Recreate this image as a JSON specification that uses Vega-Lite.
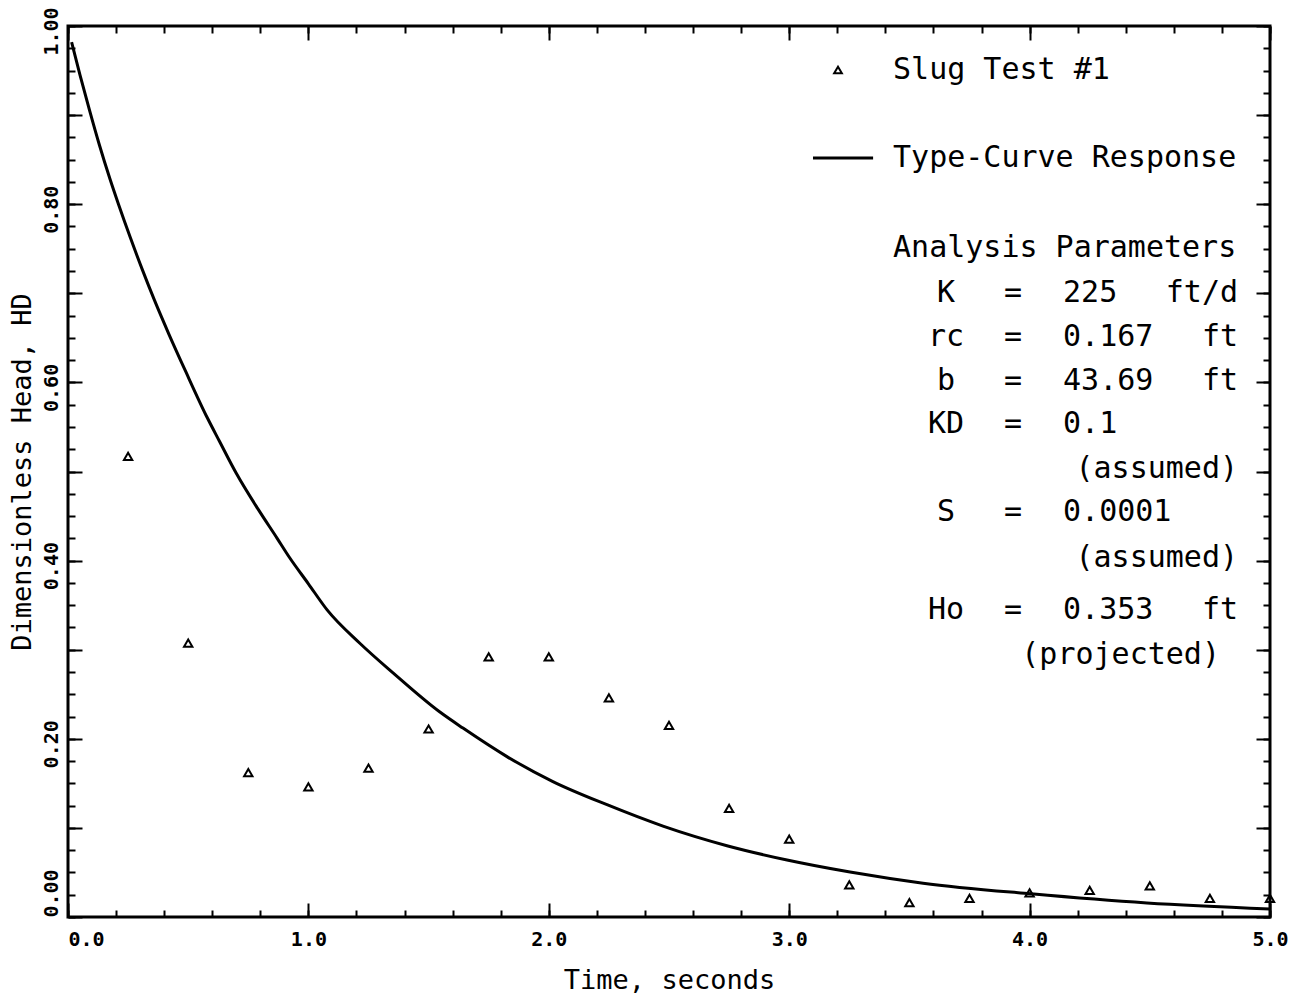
{
  "$schema": "https://vega.github.io/schema/vega-lite/v6.json",
  "width": 1202,
  "height": 891,
  "autosize": {"type": "none"},
  "padding": {"left": 68, "top": 26, "right": 21, "bottom": 84},
  "background": "white",
  "config": {
    "view": {"stroke": "black", "strokeWidth": 3},
    "axis": {"grid": false},
    "font": "DejaVu Sans Mono"
  },
  "datasets": {
    "curve": [
      {"t": 0.015, "hd": 0.982},
      {"t": 0.05, "hd": 0.945},
      {"t": 0.09, "hd": 0.905},
      {"t": 0.13, "hd": 0.867},
      {"t": 0.175, "hd": 0.828},
      {"t": 0.21, "hd": 0.8},
      {"t": 0.26, "hd": 0.762},
      {"t": 0.31, "hd": 0.726},
      {"t": 0.36, "hd": 0.692},
      {"t": 0.42, "hd": 0.654},
      {"t": 0.49, "hd": 0.612},
      {"t": 0.58, "hd": 0.56},
      {"t": 0.63, "hd": 0.534},
      {"t": 0.7, "hd": 0.498},
      {"t": 0.79, "hd": 0.458},
      {"t": 0.87, "hd": 0.425},
      {"t": 0.92, "hd": 0.404},
      {"t": 1.0, "hd": 0.374},
      {"t": 1.077, "hd": 0.345},
      {"t": 1.215, "hd": 0.307},
      {"t": 1.352, "hd": 0.274},
      {"t": 1.547, "hd": 0.23},
      {"t": 1.643, "hd": 0.212},
      {"t": 1.826, "hd": 0.18},
      {"t": 2.017, "hd": 0.152},
      {"t": 2.242, "hd": 0.126},
      {"t": 2.475, "hd": 0.102},
      {"t": 2.741, "hd": 0.08},
      {"t": 2.991, "hd": 0.064},
      {"t": 3.253, "hd": 0.0505},
      {"t": 3.557, "hd": 0.038},
      {"t": 4.006, "hd": 0.026},
      {"t": 4.488, "hd": 0.0157},
      {"t": 5.0, "hd": 0.009}
    ],
    "slug": [
      {"t": 0.25, "hd": 0.517},
      {"t": 0.5, "hd": 0.3075},
      {"t": 0.75, "hd": 0.162},
      {"t": 1.0, "hd": 0.146},
      {"t": 1.25, "hd": 0.167},
      {"t": 1.5, "hd": 0.211},
      {"t": 1.75, "hd": 0.292},
      {"t": 2.0, "hd": 0.292},
      {"t": 2.25, "hd": 0.246},
      {"t": 2.5, "hd": 0.215},
      {"t": 2.75, "hd": 0.122},
      {"t": 3.0, "hd": 0.0875},
      {"t": 3.25, "hd": 0.036},
      {"t": 3.5, "hd": 0.016},
      {"t": 3.75, "hd": 0.021},
      {"t": 4.0, "hd": 0.027},
      {"t": 4.25, "hd": 0.03},
      {"t": 4.5, "hd": 0.035},
      {"t": 4.75, "hd": 0.021},
      {"t": 5.0, "hd": 0.021}
    ],
    "legendSymbol": [{"t": 3.203, "hd": 0.9506}],
    "legendLine": [{"t": 3.099, "t2": 3.349, "hd": 0.8519}],
    "notes": [
      {"t": 3.432, "hd": 0.9506, "text": "Slug Test #1", "col": "left"},
      {"t": 3.432, "hd": 0.8519, "text": "Type-Curve Response", "col": "left"},
      {"t": 3.432, "hd": 0.7508, "text": "Analysis Parameters", "col": "left"},
      {"t": 3.652, "hd": 0.7003, "text": "K", "col": "center"},
      {"t": 3.931, "hd": 0.7003, "text": "=", "col": "center"},
      {"t": 4.139, "hd": 0.7003, "text": "225", "col": "left"},
      {"t": 4.867, "hd": 0.7003, "text": "ft/d", "col": "right"},
      {"t": 3.652, "hd": 0.651, "text": "rc", "col": "center"},
      {"t": 3.931, "hd": 0.651, "text": "=", "col": "center"},
      {"t": 4.139, "hd": 0.651, "text": "0.167", "col": "left"},
      {"t": 4.867, "hd": 0.651, "text": "ft", "col": "right"},
      {"t": 3.652, "hd": 0.6016, "text": "b", "col": "center"},
      {"t": 3.931, "hd": 0.6016, "text": "=", "col": "center"},
      {"t": 4.139, "hd": 0.6016, "text": "43.69", "col": "left"},
      {"t": 4.867, "hd": 0.6016, "text": "ft", "col": "right"},
      {"t": 3.652, "hd": 0.5533, "text": "KD", "col": "center"},
      {"t": 3.931, "hd": 0.5533, "text": "=", "col": "center"},
      {"t": 4.139, "hd": 0.5533, "text": "0.1", "col": "left"},
      {"t": 4.867, "hd": 0.5028, "text": "(assumed)", "col": "right"},
      {"t": 3.652, "hd": 0.4545, "text": "S", "col": "center"},
      {"t": 3.931, "hd": 0.4545, "text": "=", "col": "center"},
      {"t": 4.139, "hd": 0.4545, "text": "0.0001", "col": "left"},
      {"t": 4.867, "hd": 0.4029, "text": "(assumed)", "col": "right"},
      {"t": 3.652, "hd": 0.3446, "text": "Ho", "col": "center"},
      {"t": 3.931, "hd": 0.3446, "text": "=", "col": "center"},
      {"t": 4.139, "hd": 0.3446, "text": "0.353", "col": "left"},
      {"t": 4.867, "hd": 0.3446, "text": "ft", "col": "right"},
      {"t": 4.792, "hd": 0.2941, "text": "(projected)", "col": "right"}
    ]
  },
  "resolve": {"axis": {"x": "independent", "y": "independent"}},
  "layer": [
    {
      "data": {"name": "curve"},
      "mark": {"type": "line", "color": "black", "strokeWidth": 3, "interpolate": "monotone", "clip": true},
      "encoding": {
        "x": {
          "field": "t", "type": "quantitative",
          "scale": {"domain": [0, 5], "nice": false, "zero": false},
          "axis": {
            "orient": "bottom", "values": [0, 1, 2, 3, 4, 5], "format": ".1f",
            "ticks": false, "domain": false, "grid": false,
            "labelFont": "DejaVu Sans Mono", "labelFontSize": 20, "labelFontWeight": "bold",
            "labelColor": "black", "labelPadding": 12, "labelFlush": false, "labelOverlap": false,
            "labelAlign": {"condition": {"test": "datum.value == 0", "value": "left"}, "value": "center"},
            "title": "Time, seconds", "titleFont": "DejaVu Sans Mono", "titleFontSize": 27,
            "titleFontWeight": "normal", "titleColor": "black", "titlePadding": 18
          }
        },
        "y": {
          "field": "hd", "type": "quantitative",
          "scale": {"domain": [0, 1], "nice": false, "zero": false},
          "axis": {
            "orient": "left", "values": [0, 0.2, 0.4, 0.6, 0.8, 1.0], "format": ".2f",
            "ticks": false, "domain": false, "grid": false,
            "labelFont": "DejaVu Sans Mono", "labelFontSize": 20, "labelFontWeight": "bold",
            "labelColor": "black", "labelPadding": 7, "labelFlush": false, "labelOverlap": false,
            "labelAngle": 270, "labelBaseline": "bottom",
            "labelAlign": {"condition": {"test": "datum.value == 0", "value": "left"}, "value": "center"},
            "labelOffset": {"condition": {"test": "datum.value == 0", "value": 0}, "value": 5},
            "title": "Dimensionless Head, HD", "titleFont": "DejaVu Sans Mono", "titleFontSize": 27,
            "titleFontWeight": "normal", "titleColor": "black", "titlePadding": 5
          }
        }
      }
    },
    {
      "data": {"name": "slug"},
      "mark": {"type": "point", "shape": "triangle-up", "size": 70, "filled": false, "color": "black", "strokeWidth": 2, "opacity": 1},
      "encoding": {
        "x": {
          "field": "t", "type": "quantitative",
          "scale": {"domain": [0, 5], "nice": false, "zero": false},
          "axis": {"orient": "bottom", "values": [0, 1, 2, 3, 4, 5], "labels": false, "domain": false, "grid": false, "ticks": true, "tickSize": -14, "tickWidth": 2, "tickColor": "black", "title": null}
        },
        "y": {
          "field": "hd", "type": "quantitative",
          "scale": {"domain": [0, 1], "nice": false, "zero": false},
          "axis": {"orient": "left", "values": [0, 0.1, 0.2, 0.3, 0.4, 0.5, 0.6, 0.7, 0.8, 0.9, 1.0], "labels": false, "domain": false, "grid": false, "ticks": true, "tickSize": -14, "tickWidth": 2, "tickColor": "black", "title": null}
        }
      }
    },
    {
      "data": {"name": "legendSymbol"},
      "mark": {"type": "point", "shape": "triangle-up", "size": 60, "filled": false, "color": "black", "strokeWidth": 2, "opacity": 1},
      "encoding": {
        "x": {
          "field": "t", "type": "quantitative",
          "scale": {"domain": [0, 5], "nice": false, "zero": false},
          "axis": {"orient": "bottom", "values": [0, 0.2, 0.4, 0.6, 0.8, 1.0, 1.2, 1.4, 1.6, 1.8, 2.0, 2.2, 2.4, 2.6, 2.8, 3.0, 3.2, 3.4, 3.6, 3.8, 4.0, 4.2, 4.4, 4.6, 4.8, 5.0], "labels": false, "domain": false, "grid": false, "ticks": true, "tickSize": -7, "tickWidth": 2, "tickColor": "black", "title": null}
        },
        "y": {
          "field": "hd", "type": "quantitative",
          "scale": {"domain": [0, 1], "nice": false, "zero": false},
          "axis": {"orient": "left", "values": [0, 0.025, 0.05, 0.075, 0.1, 0.125, 0.15, 0.175, 0.2, 0.225, 0.25, 0.275, 0.3, 0.325, 0.35, 0.375, 0.4, 0.425, 0.45, 0.475, 0.5, 0.525, 0.55, 0.575, 0.6, 0.625, 0.65, 0.675, 0.7, 0.725, 0.75, 0.775, 0.8, 0.825, 0.85, 0.875, 0.9, 0.925, 0.95, 0.975, 1.0], "labels": false, "domain": false, "grid": false, "ticks": true, "tickSize": -7, "tickWidth": 2, "tickColor": "black", "title": null}
        }
      }
    },
    {
      "data": {"name": "legendLine"},
      "mark": {"type": "rule", "color": "black", "strokeWidth": 3},
      "encoding": {
        "x": {
          "field": "t", "type": "quantitative",
          "scale": {"domain": [0, 5], "nice": false, "zero": false},
          "axis": {"orient": "top", "values": [0, 1, 2, 3, 4, 5], "labels": false, "domain": false, "grid": false, "ticks": true, "tickSize": -14, "tickWidth": 2, "tickColor": "black", "title": null}
        },
        "x2": {"field": "t2"},
        "y": {
          "field": "hd", "type": "quantitative",
          "scale": {"domain": [0, 1], "nice": false, "zero": false},
          "axis": {"orient": "right", "values": [0, 0.1, 0.2, 0.3, 0.4, 0.5, 0.6, 0.7, 0.8, 0.9, 1.0], "labels": false, "domain": false, "grid": false, "ticks": true, "tickSize": -14, "tickWidth": 2, "tickColor": "black", "title": null}
        }
      }
    },
    {
      "data": {"name": "notes"},
      "transform": [{"filter": "datum.col == 'left'"}],
      "mark": {"type": "text", "align": "left", "baseline": "middle", "font": "DejaVu Sans Mono", "fontSize": 30, "color": "black"},
      "encoding": {
        "x": {
          "field": "t", "type": "quantitative",
          "scale": {"domain": [0, 5], "nice": false, "zero": false},
          "axis": {"orient": "top", "values": [0, 0.2, 0.4, 0.6, 0.8, 1.0, 1.2, 1.4, 1.6, 1.8, 2.0, 2.2, 2.4, 2.6, 2.8, 3.0, 3.2, 3.4, 3.6, 3.8, 4.0, 4.2, 4.4, 4.6, 4.8, 5.0], "labels": false, "domain": false, "grid": false, "ticks": true, "tickSize": -7, "tickWidth": 2, "tickColor": "black", "title": null}
        },
        "y": {
          "field": "hd", "type": "quantitative",
          "scale": {"domain": [0, 1], "nice": false, "zero": false},
          "axis": {"orient": "right", "values": [0, 0.025, 0.05, 0.075, 0.1, 0.125, 0.15, 0.175, 0.2, 0.225, 0.25, 0.275, 0.3, 0.325, 0.35, 0.375, 0.4, 0.425, 0.45, 0.475, 0.5, 0.525, 0.55, 0.575, 0.6, 0.625, 0.65, 0.675, 0.7, 0.725, 0.75, 0.775, 0.8, 0.825, 0.85, 0.875, 0.9, 0.925, 0.95, 0.975, 1.0], "labels": false, "domain": false, "grid": false, "ticks": true, "tickSize": -7, "tickWidth": 2, "tickColor": "black", "title": null}
        },
        "text": {"field": "text"}
      }
    },
    {
      "data": {"name": "notes"},
      "transform": [{"filter": "datum.col == 'center'"}],
      "mark": {"type": "text", "align": "center", "baseline": "middle", "font": "DejaVu Sans Mono", "fontSize": 30, "color": "black"},
      "encoding": {
        "x": {"field": "t", "type": "quantitative", "scale": {"domain": [0, 5], "nice": false, "zero": false}, "axis": null},
        "y": {"field": "hd", "type": "quantitative", "scale": {"domain": [0, 1], "nice": false, "zero": false}, "axis": null},
        "text": {"field": "text"}
      }
    },
    {
      "data": {"name": "notes"},
      "transform": [{"filter": "datum.col == 'right'"}],
      "mark": {"type": "text", "align": "right", "baseline": "middle", "font": "DejaVu Sans Mono", "fontSize": 30, "color": "black"},
      "encoding": {
        "x": {"field": "t", "type": "quantitative", "scale": {"domain": [0, 5], "nice": false, "zero": false}, "axis": null},
        "y": {"field": "hd", "type": "quantitative", "scale": {"domain": [0, 1], "nice": false, "zero": false}, "axis": null},
        "text": {"field": "text"}
      }
    }
  ]
}
